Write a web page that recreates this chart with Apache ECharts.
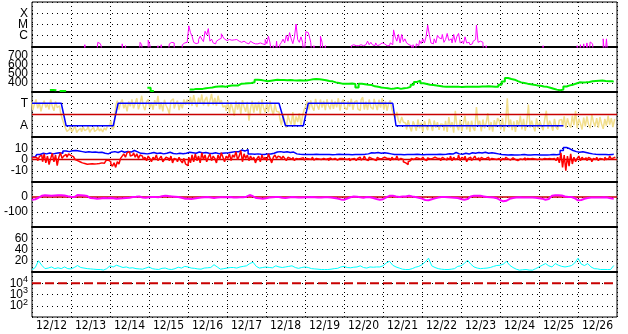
<!DOCTYPE html>
<html><head><meta charset="utf-8">
<script src="https://cdn.jsdelivr.net/npm/echarts@6/dist/echarts.min.js"></script>
<style>html,body{margin:0;padding:0;background:#fff;}#c{width:628px;height:334px;}</style>
</head><body><div id="c"></div>
<script>
// ---- x axis ----
const dateLabels = ['12/12','12/13','12/14','12/15','12/16','12/17','12/18','12/19','12/20','12/21','12/22','12/23','12/24','12/25','12/26'];
const hoursSpan = 360;

// ---- panel 1: X-ray flux (W/m2), hourly; L = below panel ----
const L = 1e-8;
const xrayStepHours = 1;
const xrayFlux = [
L,L,L,L,L,L,L,L,L,L,
L,L,L,L,L,L,L,L,L,L,
L,L,L,L,L,L,L,L,L,L,
L,L,L,1.6e-7,L,L,L,L,L,L,
L,2.6e-7,2e-7,1.3e-7,L,L,L,L,L,L,
L,L,L,L,L,L,1.9e-7,L,1.3e-7,L,
L,L,L,L,L,L,L,2.6e-7,1.6e-7,L,
L,L,4e-7,1.6e-7,L,L,L,L,1.3e-7,L,
1.6e-7,L,L,L,L,1.9e-7,2.6e-7,2.3e-7,L,L,
L,L,L,1.6e-7,2.3e-7,2.6e-7,3.3e-7,7.6e-6,1.9e-6,9e-7,
2.6e-7,2e-7,2.3e-7,4.6e-7,9e-7,5e-7,3e-7,2.5e-6,1.2e-6,4.3e-6,
3.3e-7,5e-7,2.3e-7,1.9e-7,3.3e-7,4.6e-7,6e-7,1.5e-6,8e-7,5e-7,
3.8e-7,4.6e-7,5e-7,4e-7,4.3e-7,5e-7,4.6e-7,3.3e-7,4e-7,2.6e-7,
3.3e-7,2.6e-7,2.3e-7,1.9e-7,2.6e-7,3.3e-7,2.3e-7,1.9e-7,1.6e-7,1.9e-7,
2.3e-7,1.6e-7,1.9e-7,1.6e-7,4.6e-7,2e-7,9e-7,2.3e-7,L,1.3e-7,
L,3.3e-7,L,1.6e-7,2.6e-7,5e-7,2.3e-7,1.1e-6,3.3e-7,1.9e-6,
5.3e-7,2e-7,8e-7,1.1e-5,4.6e-7,2.6e-7,8e-7,2.6e-7,L,2.3e-6,
1.9e-6,1.1e-6,2.6e-7,L,1.3e-7,L,L,L,9e-7,2.6e-7,
L,1.3e-7,L,L,L,L,L,L,L,L,
L,L,L,L,L,L,L,1.3e-7,1.6e-7,1.3e-7,
1.6e-7,1.3e-7,1.6e-7,1.9e-7,1.3e-7,1.6e-7,1.3e-7,3.3e-7,1.6e-7,2.6e-7,
1.6e-7,1.3e-7,2.3e-7,1.3e-7,1.6e-7,2.3e-7,3.3e-7,1.9e-7,1.3e-7,1.6e-7,
1.3e-7,2.3e-7,1.6e-7,3.3e-6,8e-7,3.3e-7,1.3e-6,2.3e-7,1.3e-6,3e-7,
5.3e-7,2.3e-7,1.6e-7,1.3e-7,L,1.6e-7,L,1.9e-7,1.3e-7,3.8e-7,
2e-7,5.3e-7,2.3e-7,8e-7,8.7e-6,1.3e-6,2.3e-7,1.9e-7,5.3e-7,2.3e-7,
1.1e-6,6.6e-7,5.3e-7,1.3e-6,2.6e-7,4.6e-7,1.6e-6,3.8e-7,5.3e-7,2.3e-7,
1.3e-6,2.6e-7,9e-7,1.6e-6,2.3e-7,3.3e-7,1.9e-7,8e-7,2.3e-7,2.6e-7,
1.6e-7,1.9e-7,3.3e-7,4.6e-7,8.7e-6,2.6e-7,3.3e-7,2.6e-7,1.6e-7,L,
1.3e-7,L,L,L,L,L,L,L,L,L,
L,L,L,L,L,L,L,L,L,L,
L,L,L,L,L,L,L,L,L,L,
L,L,L,L,L,1.3e-7,L,L,L,L,
L,L,L,L,L,L,L,L,L,L,
L,L,L,L,L,L,1.3e-7,L,1.6e-7,L,
1.9e-7,L,2.3e-7,L,2.8e-7,1.9e-7,L,L,L,L,
L,L,5.3e-7,L,5.3e-7,L,L,L,L,L
];
const xrayTicks = {'-6':'C','-5':'M','-4':'X'};

// ---- panel 2: solar wind speed (km/s), 2-hourly ----
const speedStepHours = 2;
const speed = [
null,null,null,null,null,null,322,318,null,312,
310,null,null,null,null,null,null,null,null,null,
null,null,null,null,null,null,null,null,null,null,
null,null,null,null,null,null,345,312,null,null,
null,null,null,null,null,null,null,null,null,326,
334,332,334,340,345,350,356,360,362,356,
365,370,370,372,391,393,396,399,405,434,
430,424,416,422,428,434,432,430,428,430,
427,425,428,424,426,432,438,442,440,434,
428,420,416,405,398,391,390,391,392,388,
350,390,385,380,376,362,356,350,345,340,
334,338,345,334,340,345,356,378,410,422,
395,388,380,376,370,366,360,356,357,356,
358,356,355,358,356,357,356,358,360,361,
362,360,358,356,380,415,452,442,434,418,
405,398,391,385,378,372,368,360,356,346,
336,326,319,326,360,372,380,392,405,404,
406,410,416,420,422,424,420,418,416,413
];
const speedTicks = [400,500,600,700];

// ---- panel 3: IMF sector (deg) ----
const sectorHours  = [0,18,21,50,53,152,156,167,170,222,224,327];
const sectorAngle  = [270,270,90,90,270,270,90,90,270,270,90,90];
const sectorMid = 180;
const sectorTicks = {'270':'T','90':'A'};
const phiStepHours = 1;
const phi = [
280,215,262,300,230,275,205,258,290,236,265,220,300,245,210,285,235,250,
200,150,110,
75,45,60,85,40,62,90,35,55,70,42,80,50,65,88,38,60,75,44,58,82,48,66,40,72,55,90,95,130,60,80,
250,290,220,275,300,230,265,205,285,245,300,230,270,310,221,264,330,248,215,282,300,234,276,218,295,250,330,222,278,205,298,252,226,185,290,305,228,268,292,215,275,230,300,258,
300,255,320,248,335,272,240,315,268,340,252,298,320,245,290,345,255,312,248,330,268,295,240,
250,208,292,190,275,226,170,288,220,278,185,295,240,202,282,130,228,290,195,275,212,285,180,300,232,196,280,198,290,220,175,265,205,
200,150,95,180,120,75,175,130,100,200,85,165,120,190,95,170,220,250,
285,220,292,238,210,305,252,218,300,235,288,215,302,250,222,298,226,285,238,310,212,276,300,232,220,288,244,306,218,280,292,225,210,296,318,220,282,216,300,238,222,305,260,215,298,236,310,220,285,212,270,292,
220,180,150,200,130,110,160,120,
110,60,135,80,45,125,95,50,140,70,115,40,128,85,55,145,100,48,132,75,118,58,105,
100,50,130,40,160,75,120,35,210,85,55,140,45,110,170,60,125,40,130,72,50,240,95,130,45,140,70,115,190,55,120,42,135,80,150,
130,60,150,45,120,310,75,140,55,125,40,135,90,170,60,145,50,120,260,75,130,85,45,150,70,125,90,55,140,210,65,130,100,50,145,80,60,135,
140,80,165,70,150,100,75,170,95,210,70,145,110,60,155,85,165,100,70,180,120,85,150,75,160,105,65,145,90,170,100,150,80,140
];

// ---- panel 4: Bt (2-hourly) and Bz (hourly), nT ----
const btStepHours = 2;
const bt = [
2,2.5,4.5,5.5,5,5.8,5,5.5,6,5.5,
7.5,7,7.8,8,7.5,7,6.5,6.8,6.5,6.6,
6.2,6.5,5.5,5,6.5,7,6.2,7.5,6.5,7.2,
6.6,8,6.8,5.5,5.3,5,5.5,6.2,5.3,5.8,
5,5.5,6.5,5.3,5,5.6,5.2,5.5,6.5,6,
5.5,6.6,5.8,6.2,5.5,5.3,6,5.2,5.5,5.8,
6,6.5,7,6.8,8.4,7.5,8.8,5,4.7,5,
4.7,4.5,5,4.8,5.5,6.6,7,6.5,6.8,6.2,
6.6,5,4.6,4.4,4.5,4.4,4.4,4.6,4.4,4.5,
4.4,4.4,4.3,4.4,4.6,4.4,4.5,4.4,4.2,4.4,
4.5,4.4,4.6,5,6,5.8,6.2,5.5,6,5.6,
5,4.4,4.5,4.4,4.3,4.4,4.5,4.4,4.6,4.4,
4.3,4.4,4.5,4.4,4.4,4.6,4.5,4.7,5.2,4.8,
6.2,5,4.7,5.5,4.8,6,5.5,6.2,5.8,6.5,
5.6,6,5.5,5,4.4,4.2,4,4.3,4.1,4,
4.2,4.5,4.1,4,4.2,4.3,4,4.1,4,4.2,
4.5,4.3,4.6,8,10.6,9.5,8,7,6.5,6.8,
6.2,5.5,5,4.6,4.4,4.5,4.4,4.3,4.5,4.6
];
const bzStepHours = 1;
const bz = [
1.5,2,0.5,1.8,-1,2.5,4,-2,5,-3,
3,-4.5,1,5.5,-2,4,-5.5,2,6,1,
3,4.5,2,5,3.5,2.5,1.5,0,-1,-2,
-2.5,-3,-3.5,-4,-4.2,-4,-4.3,-3.8,-4,-4.1,
-3.8,-3.5,-3.6,-3,-3.4,-2.8,-1,-0.5,-2,-4,
-6,-3,-7,-2,-4,1,3,5,2,6,
7,3,4,6,2,5,1,4,3,0,
2,-1,3,1,-2,2,0,4,-1,1,
3,-2,0,2,1,-1,3,-3,1,0,
-2,2,-1,-3,1,-4,-5.5,2,-3,4,
-2,5,-1,3,-3,6,0,4,-2,2,
5,-1,3,1,-3,4,0,6,2,-2,
3,1,5,-1,4,2,7,0,3,8,
-2,5,1,4,-1,3,0,2,-3,1,
3,-2,4,0,2,-1,5,1,-3,2,
4,1,3,2,0,3,1,-1,2,1,
0,2,-1,1,0.5,1,0,1.5,-0.5,1,
0.5,1,0,2,-0.5,1,0.5,1.5,0,1,
2,0,1,-1,1.5,0,1,0.5,-0.5,1,
0,1,0.5,2,0,1,-1,0.5,1,0,
-1,1,2,-0.5,1,3,0,-1,2,1,
0,1.5,-1,2,0.5,1,-0.5,2,1,0,
1,-1,2,0,1,3,-0.5,1,0,-2,
-3,-4.5,-2,-1,1,0,1.5,0.5,1,0,
1,2,0,-1,1.5,0.5,1,-0.5,2,1,
0,1,-1,2,0.5,-0.5,1.5,0,3,-1,
2,0,1,4,-1,2,0.5,3,-2,1,
2,-1,1,3,0,1.5,-1.5,2,0.5,1,
0,2,-0.5,1,0.5,1.5,0,1,2,-1,
1,0,2,0.5,-0.5,1,1.5,0,1,-1,
0.5,1,0,1.5,-0.5,1,0.5,0,1,0.5,
1,0,0.5,1.5,0,1,-0.5,0.5,1,0,
0.5,1,0,-1,2,-3,6,-7,4,-10,
3,-6,5,-4,2,-2,1,3,-1,2,
0,1.5,-1,2,0.5,-2,1,0,2,-1,
1,0.5,-0.5,2,0,1,3,0.5,1.5,2
];
const bzZero = 0;
const bTicks = [10,0,-10];

// ---- panel 5: Dst (nT), 2-hourly ----
const dstStepHours = 2;
const dst = [
-18,-15,-5,8,11,10,9,10,11,11,
10,5,2,0,13,12,10,6,-7,-9,
-11,-10,-7,-8,-7,-9,-11,-10,-9,-7,
-5,0,1,4,-3,-5,-2,0,0,-1,
5,9,6,4,2,0,-5,-11,-12,-13,
-10,-6,-4,-1,0,-3,-7,-4,-2,-2,
-1,0,-3,-4,-2,-1,2,13,5,-7,
-9,-11,-9,-3,-1,0,0,-5,-7,-3,
0,-1,-4,-3,-2,-1,0,-2,-4,-3,
-2,-2,-4,-7,-10,-16,-18,-10,-2,3,
2,-2,-5,0,-2,-7,-13,-18,-15,-2,
8,9,3,0,3,4,8,3,0,-5,
-11,-20,-22,-15,-9,-4,0,0,-2,-4,
-5,-7,-13,-18,-14,3,9,9,8,4,
0,-2,-4,-8,-20,-29,-25,-12,-7,-4,
-2,-4,-4,-3,-4,-5,-8,-11,-18,-14,
9,11,11,10,3,0,0,-8,-22,-20,
-12,-7,-4,-4,-4,-3,-2,-4,-8,-11
];
const dstZero = 0;
const dstTicks = [0,-100];

// ---- panel 6: cyan index, 2-hourly ----
const cyanStepHours = 2;
const cyan = [
4,8,20,12,6,7,9,6,7.5,6,
9,6,5.5,8,11.5,8,7,6,5.5,5,
4.5,4.4,3.5,6,11,9,12,10,8,9,
7,7.5,6,5.5,5,7,9,6,5,4.5,
6.5,7,5,4.4,6,8.5,7,10,9,7,
6.5,5.5,5,7,7.5,8,13,9,5,6,
7,8,8,7,9,10,11,15,17.5,10,
7,8,9,8,7.5,11,9,8,9,10,
11,8,6.5,8,9,8,6,5.5,5,4.4,
4.4,4.4,5,6,6.5,9,10,8,7.5,8.5,
9,11,8,7,9,8.5,9,9,11,16,
19,12,9,7,5,4.4,4.4,6,8.5,10,
13,18,24.6,11,8,6,5,4.5,4.4,5,
6,10,11,15,21,14,9,7,6,6.5,
7,8,10,11.6,12,14,19,12,8,5,
3.3,4,4.4,3.5,3.3,6,9,12,15,11,
9,15,12,10,9,10,11.5,16,24.6,14,
11.5,15,9,6,5.5,4.4,4.5,4.4,4.4,11.5
];
const cyanTicks = [20,40,60];

// ---- panel 7: log panel with reference level ----
const refLevel = 1e4;
const logTicks = [2,3,4];

// ================= build =================
const FONT = "'Liberation Sans', Arial, Helvetica, sans-serif";
const XFONT = "'Liberation Sans Narrow', 'Arial Narrow', 'DejaVu Sans Condensed', 'Liberation Sans', sans-serif";
const tops = [2,47,92,137,182,227,272];
const H = 45;
function pairs(vals, step){ return vals.map((v,i)=>[i*step, v]); }
function flat(v){ return [[0,v],[hoursSpan,v]]; }
const hDotted = {color:'#000', type:[1,4], width:1};
const vDotted = {color:'#000', type:[1,3], width:1};

const grid = tops.map(t=>({left:32, width:585, top:t, height:H, show:true, borderColor:'#000', borderWidth:1, backgroundColor:'transparent'}));
const xAxis = tops.map((t,k)=>({
  type:'value', gridIndex:k, min:0, max:hoursSpan, interval:24,
  axisLabel:{show:false}, axisTick:{show:false},
  axisLine:{show:k<6, onZero:false, lineStyle:{color:'#000', width:2}},
  splitLine:{show:true, lineStyle:vDotted}
}));
xAxis.push({
  type:'category', gridIndex:6, data:dateLabels, boundaryGap:true, position:'bottom',
  axisLine:{show:false}, axisTick:{show:false}, splitLine:{show:false},
  axisLabel:{show:true, margin:3, fontSize:12, color:'#000', fontFamily:XFONT, interval:0}
});
const lbl = (fmt, extra)=>Object.assign({show:true, margin:4, fontSize:12, color:'#000', fontFamily:FONT, formatter:fmt}, extra||{});
const yBase = {axisTick:{show:false}, axisLine:{show:false}, splitLine:{show:true, lineStyle:hDotted}};
const yAxis = [
  Object.assign({type:'log', gridIndex:0, min:1e-7, max:1e-3, logBase:10,
    axisLabel:lbl(v=>{const e=Math.round(Math.log10(v)); return xrayTicks[String(e)]||'';})}, yBase),
  Object.assign({type:'value', gridIndex:1, min:300, max:790, interval:100,
    axisLabel:lbl(v=>speedTicks.includes(Math.round(v))?String(Math.round(v)):'')}, yBase),
  Object.assign({type:'value', gridIndex:2, min:0, max:360, interval:90,
    axisLabel:lbl(v=>sectorTicks[String(Math.round(v))]||'')}, yBase),
  Object.assign({type:'value', gridIndex:3, min:-20, max:20, interval:10,
    axisLabel:lbl(v=>bTicks.includes(v)?String(v):'')}, yBase),
  Object.assign({type:'value', gridIndex:4, min:-200, max:100, interval:100,
    axisLabel:lbl(v=>dstTicks.includes(v)?String(v):'')}, yBase),
  Object.assign({type:'value', gridIndex:5, min:0, max:80, interval:20,
    axisLabel:lbl(v=>cyanTicks.includes(v)?String(v):'')}, yBase),
  Object.assign({type:'log', gridIndex:6, min:10, max:1e5, logBase:10,
    axisLabel:lbl(v=>{const e=Math.round(Math.log10(v)); return logTicks.includes(e)?('10{s|'+e+'}'):'';},
      {rich:{s:{fontSize:9, fontFamily:FONT, color:'#000', padding:[0,0,7,0]}}})}, yBase)
];
function line(k, data, color, width, step, extra){
  return Object.assign({type:'line', xAxisIndex:k, yAxisIndex:k, data:data, showSymbol:false, symbol:'none',
    step:step, clip:true, animation:false, lineStyle:{color:color, width:width}, z:3}, extra||{});
}
const series = [
  line(0, pairs(xrayFlux, xrayStepHours), '#ff00ff', 1, 'middle'),
  line(1, pairs(speed, speedStepHours), '#00ee00', 2, 'middle'),
  line(2, pairs(phi, phiStepHours), '#f2de8c', 1.5, 'middle'),
  line(2, sectorHours.map((h,i)=>[h, sectorAngle[i]]), '#0000ff', 1.5, false),
  line(2, flat(sectorMid), '#c80000', 1.5, false),
  line(3, pairs(bt, btStepHours), '#0000ff', 1.5, 'middle'),
  line(3, flat(bzZero), '#c80000', 1.5, false),
  line(3, pairs(bz, bzStepHours), '#ff0000', 1.5, 'middle'),
  line(4, flat(dstZero), '#c80000', 1.5, false),
  line(4, pairs(dst, dstStepHours), '#ff00ff', 2, false),
  line(5, pairs(cyan, cyanStepHours), '#00ffff', 1, false),
  line(6, flat(refLevel), '#c80000', 2, false, {lineStyle:{color:'#c80000', width:2, type:[9,4]}})
];
const chart = echarts.init(document.getElementById('c'), null, {renderer:'canvas'});
chart.setOption({animation:false, backgroundColor:'#fff', grid, xAxis, yAxis, series});
</script></body></html>
